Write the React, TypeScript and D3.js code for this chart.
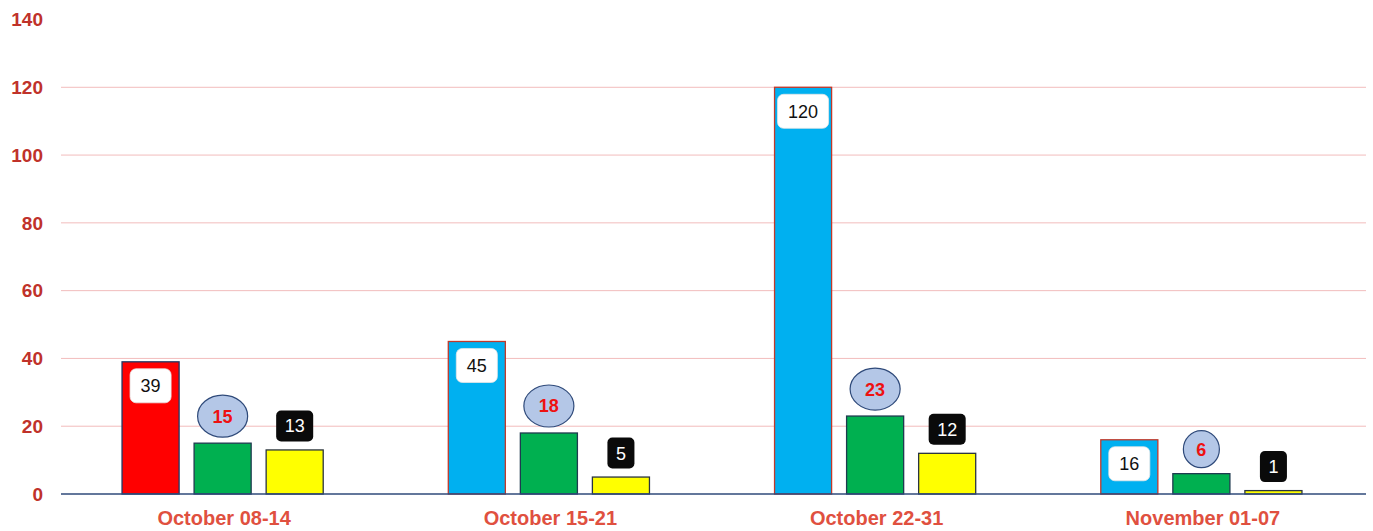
import React, { useEffect, useRef } from 'react';
import * as d3 from 'd3';

const categories = ['October 08-14', 'October 15-21', 'October 22-31', 'November 01-07'];
const seriesNames = ['s1', 's2', 's3'];
const series1 = [39, 45, 120, 16];
const series2 = [15, 18, 23, 6];
const series3 = [13, 5, 12, 1];
const series1Fills = ['#ff0000', '#00b0f0', '#00b0f0', '#00b0f0'];
const series1Strokes = ['#1f3864', '#c0392b', '#c0392b', '#c0392b'];
const yTicks = [0, 20, 40, 60, 80, 100, 120, 140];

const W = 1373;
const H = 531;
const FONT = "Arial, 'Liberation Sans', sans-serif";

export default function App() {
  const ref = useRef<SVGSVGElement>(null);

  useEffect(() => {
    const svg = d3.select(ref.current);
    svg.selectAll('*').remove();

    const margin = { top: 19, right: 7, bottom: 37, left: 61 };
    const x0 = d3.scaleBand().domain(categories).range([margin.left - 1.5, W - margin.right - 1.5]);
    const x1 = d3
      .scaleBand()
      .domain(seriesNames)
      .range([0, x0.bandwidth()])
      .paddingInner(0.208)
      .paddingOuter(0.868);
    const y = d3.scaleLinear().domain([0, 140]).range([494, 19.5]);

    // gridlines
    svg
      .append('g')
      .selectAll('line')
      .data(yTicks.filter((t) => t > 0 && t < 140))
      .enter()
      .append('line')
      .attr('x1', margin.left)
      .attr('x2', W - margin.right)
      .attr('y1', (d) => y(d))
      .attr('y2', (d) => y(d))
      .attr('stroke', '#f2bcbc')
      .attr('stroke-width', 1);

    // y labels
    svg
      .append('g')
      .selectAll('text')
      .data(yTicks)
      .enter()
      .append('text')
      .attr('x', 43)
      .attr('y', (d) => y(d))
      .attr('dy', '0.36em')
      .attr('text-anchor', 'end')
      .style('font-family', FONT)
      .style('font-size', '19px')
      .style('font-weight', 'bold')
      .attr('fill', '#c0322a')
      .text((d) => d);

    const rows = categories.map((c, i) => ({
      cat: c,
      i,
      vals: [series1[i], series2[i], series3[i]],
    }));

    const barW = x1.bandwidth();
    const g = svg.append('g');

    rows.forEach((r) => {
      const gx = x0(r.cat)!;
      const fills = [series1Fills[r.i], '#00b050', '#ffff00'];
      const strokes = [series1Strokes[r.i], '#1f3a4f', '#2a3440'];
      r.vals.forEach((v, k) => {
        const bx = gx + x1(seriesNames[k])!;
        g.append('rect')
          .attr('x', bx)
          .attr('y', y(v))
          .attr('width', barW)
          .attr('height', y(0) - y(v))
          .attr('fill', fills[k])
          .attr('stroke', strokes[k])
          .attr('stroke-width', 1.3);
      });
    });

    // baseline
    svg
      .append('line')
      .attr('x1', margin.left)
      .attr('x2', W - margin.right)
      .attr('y1', y(0))
      .attr('y2', y(0))
      .attr('stroke', '#2f4a7a')
      .attr('stroke-width', 1.5);

    // labels
    const lg = svg.append('g');
    rows.forEach((r) => {
      const gx = x0(r.cat)!;
      r.vals.forEach((v, k) => {
        const cx = gx + x1(seriesNames[k])! + barW / 2;
        const top = y(v);
        const grp = lg.append('g');
        const txt = grp
          .append('text')
          .attr('x', cx)
          .attr('text-anchor', 'middle')
          .attr('dy', '0.36em')
          .style('font-family', FONT)
          .style('font-size', '18px')
          .text(v);
        const tw = (txt.node() as SVGTextElement).getComputedTextLength();
        let cy = 0;
        if (k === 0) {
          cy = top + 24;
          const bw = tw + 21;
          grp
            .insert('rect', 'text')
            .attr('x', cx - bw / 2)
            .attr('y', cy - 17)
            .attr('width', bw)
            .attr('height', 34)
            .attr('rx', 6)
            .attr('fill', '#ffffff')
            .attr('stroke', '#e6e6e6')
            .attr('stroke-width', 0.8);
          txt.attr('fill', '#111111');
        } else if (k === 1) {
          const rx = tw * 0.7 + 11;
          const ry = Math.min(21, rx + 0.5);
          cy = top - (ry + 6);
          grp
            .insert('ellipse', 'text')
            .attr('cx', cx)
            .attr('cy', cy)
            .attr('rx', rx)
            .attr('ry', ry)
            .attr('fill', '#b4c7e7')
            .attr('stroke', '#2f4a7a')
            .attr('stroke-width', 1.2);
          txt.attr('fill', '#ee1111').style('font-weight', 'bold');
        } else {
          cy = top - 24;
          const bw = tw + 17;
          grp
            .insert('rect', 'text')
            .attr('x', cx - bw / 2)
            .attr('y', cy - 15.5)
            .attr('width', bw)
            .attr('height', 31)
            .attr('rx', 5)
            .attr('fill', '#0a0a0a');
          txt.attr('fill', '#ffffff');
        }
        txt.attr('y', cy);
      });
    });

    // category labels
    svg
      .append('g')
      .selectAll('text')
      .data(categories)
      .enter()
      .append('text')
      .attr('x', (d) => x0(d)! + x0.bandwidth() / 2 + 1.5)
      .attr('y', 518)
      .attr('dy', '0.36em')
      .attr('text-anchor', 'middle')
      .style('font-family', FONT)
      .style('font-size', '20px')
      .style('font-weight', 'bold')
      .attr('fill', '#e0503f')
      .text((d) => d);
  }, []);

  return (
    <svg
      ref={ref}
      width={W}
      height={H}
      style={{ position: 'absolute', left: 0, top: 0, background: '#ffffff' }}
    />
  );
}
